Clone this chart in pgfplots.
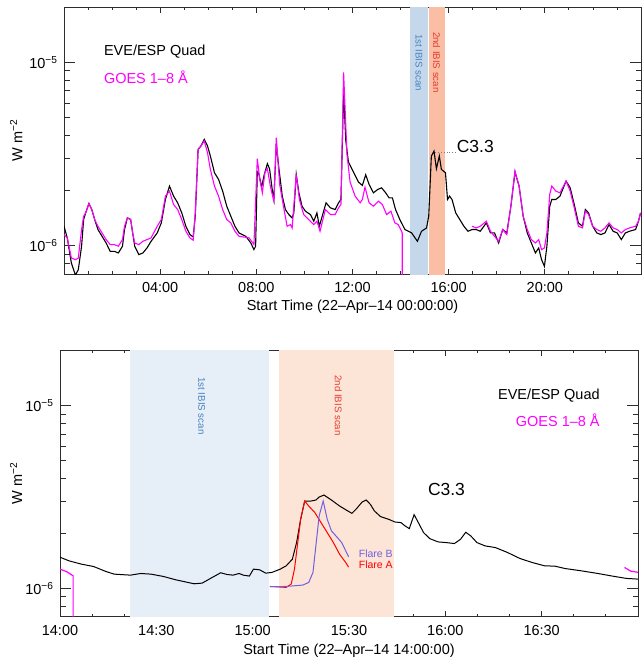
\documentclass[border=0pt]{standalone}
\usepackage{fontspec}
\setmainfont{Liberation Sans}
\usepackage{pgfplots}
\pgfplotsset{compat=1.18}
\definecolor{goes}{RGB}{255,0,255}
\definecolor{bandA}{RGB}{197,216,235}
\definecolor{bandB}{RGB}{250,190,165}
\definecolor{bandAl}{RGB}{230,238,247}
\definecolor{bandBl}{RGB}{252,228,214}
\definecolor{txtA}{RGB}{70,130,190}
\definecolor{txtB}{RGB}{230,60,50}
\definecolor{flareb}{RGB}{112,96,225}
\definecolor{axgray}{RGB}{45,45,45}
\pgfplotsset{every axis/.append style={
    scale only axis, ymin=7e-7, ymax=2e-5,
    axis line style={axgray, line width=0.9pt},
    ytick={1e-6,1e-5},
    yticklabels={{10\textsuperscript{−6}},{10\textsuperscript{−5}}},
    minor ytick={8e-7,9e-7,2e-6,3e-6,4e-6,5e-6,6e-6,7e-6,8e-6,9e-6},
    tick style={axgray, line width=0.8pt},
    major tick length=9pt, minor tick length=4.5pt,
    tick align=inside,
    every tick label/.append style={font=\fontsize{14.5}{16}\selectfont, text=black},
    yticklabel style={xshift=-3pt},
    xticklabel style={yshift=-5pt},
    label style={font=\fontsize{14.5}{16}\selectfont},
    ylabel={W m\textsuperscript{−2}},
}}
\begin{document}
\begin{tikzpicture}
\path[use as bounding box] (0,0) rectangle (642pt,658pt);
% ---------------- top panel ----------------
\begin{axis}[ymode=log, at={(64pt,384pt)}, anchor=south west,
  width=577pt, height=266.7pt, xmin=0, xmax=24,
  xtick style={/pgfplots/major tick length=5.5pt,/pgfplots/minor tick length=2.7pt},
  ytick style={/pgfplots/major tick length=11pt,/pgfplots/minor tick length=5.5pt},
  xtick={4,8,12,16,20}, xticklabels={04:00,08:00,12:00,16:00,20:00},
  minor xtick={1,2,3,5,6,7,9,10,11,13,14,15,17,18,19,21,22,23},
  xlabel={Start Time (22–Apr–14 00:00:00)},
  xlabel style={at={(axis description cs:0.5,-0.122)}, anchor=center},
  ylabel style={at={(axis description cs:-0.083,0.5)}, anchor=center},
]
\addplot[draw=none, fill=bandA] coordinates {(14.40,5e-7) (15.15,5e-7) (15.15,3e-5) (14.40,3e-5)} -- cycle;
\addplot[draw=none, fill=bandB] coordinates {(15.20,5e-7) (15.83,5e-7) (15.83,3e-5) (15.20,3e-5)} -- cycle;
\node[rotate=-90, anchor=west, inner sep=0, text=txtA, font=\fontsize{9.7}{11}\selectfont] at (axis cs:14.76,1.43e-5) {1st IBIS scan};
\node[rotate=-90, anchor=west, inner sep=0, text=txtB, font=\fontsize{9.7}{11}\selectfont] at (axis cs:15.50,1.466e-5) {2nd IBIS scan};
% EVE/ESP
\addplot[black, line width=1.1pt] coordinates {
(0.000,1.276e-6) (0.136,1.102e-6) (0.306,0.804e-6) (0.476,0.690e-6) (0.595,0.739e-6)
(0.731,0.992e-6) (0.816,1.388e-6) (0.901,1.509e-6) (1.037,1.698e-6) (1.156,1.574e-6)
(1.276,1.388e-6) (1.412,1.224e-6) (1.582,1.125e-6) (1.752,1.034e-6) (1.922,0.931e-6)
(2.092,0.931e-6) (2.262,0.912e-6) (2.432,0.992e-6) (2.517,1.224e-6) (2.636,1.417e-6)
(2.772,1.388e-6) (2.857,1.173e-6) (2.942,0.992e-6) (3.112,0.893e-6) (3.282,0.912e-6)
(3.452,0.971e-6) (3.622,1.056e-6) (3.878,1.173e-6) (4.048,1.331e-6) (4.218,1.786e-6)
(4.388,2.113e-6) (4.558,1.863e-6) (4.728,1.713e-6) (4.898,1.509e-6) (5.068,1.276e-6)
(5.238,1.149e-6) (5.374,1.115e-6) (5.459,1.447e-6) (5.578,3.355e-6) (5.697,3.499e-6)
(5.833,3.805e-6) (5.969,3.499e-6) (6.088,3.084e-6) (6.259,2.500e-6) (6.429,2.298e-6)
(6.599,1.984e-6) (6.769,1.642e-6) (6.939,1.447e-6) (7.109,1.276e-6) (7.280,1.173e-6)
(7.560,1.125e-6) (7.770,1.034e-6) (7.900,0.951e-6) (7.970,0.992e-6) (8.040,2.531e-6)
(8.110,2.450e-6) (8.220,2.086e-6) (8.320,2.416e-6) (8.460,2.801e-6) (8.550,2.630e-6)
(8.660,2.026e-6) (8.730,1.786e-6) (8.830,3.601e-6) (8.940,2.630e-6) (9.080,1.862e-6)
(9.210,1.574e-6) (9.350,1.478e-6) (9.490,1.417e-6) (9.560,1.509e-6) (9.660,2.447e-6)
(9.770,1.943e-6) (9.900,1.642e-6) (10.040,1.542e-6) (10.250,1.478e-6) (10.390,1.359e-6)
(10.520,1.509e-6) (10.620,1.276e-6) (10.760,1.478e-6) (10.900,1.713e-6) (11.080,1.608e-6)
(11.280,1.574e-6) (11.420,1.713e-6) (11.520,1.786e-6) (11.630,6.910e-6) (11.720,3.756e-6)
(11.830,2.859e-6) (12.040,2.521e-6) (12.250,2.222e-6) (12.410,2.131e-6) (12.550,2.437e-6)
(12.690,2.158e-6) (12.870,1.942e-6) (13.050,2.026e-6) (13.210,2.068e-6) (13.380,1.943e-6)
(13.520,1.824e-6) (13.660,1.824e-6) (13.790,1.574e-6) (13.970,1.388e-6) (14.180,1.224e-6)
(14.460,1.173e-6) (14.700,1.056e-6) (14.870,1.198e-6) (15.080,1.249e-6) (15.170,1.447e-6)
(15.280,3.083e-6) (15.390,3.283e-6) (15.490,2.630e-6) (15.612,3.084e-6) (15.697,2.607e-6)
(15.867,2.500e-6) (15.952,1.786e-6) (16.037,1.863e-6) (16.139,1.786e-6) (16.293,1.509e-6)
(16.463,1.388e-6) (16.633,1.276e-6) (16.803,1.198e-6) (16.973,1.224e-6) (17.143,1.224e-6)
(17.313,1.198e-6) (17.568,1.331e-6) (17.738,1.173e-6) (17.908,1.173e-6) (18.078,1.034e-6)
(18.248,1.224e-6) (18.418,1.173e-6) (18.588,1.642e-6) (18.759,2.521e-6) (18.929,2.113e-6)
(19.099,1.447e-6) (19.269,1.173e-6) (19.439,1.034e-6) (19.609,0.912e-6) (19.745,0.971e-6)
(19.864,0.838e-6) (19.983,0.771e-6) (20.085,0.992e-6) (20.204,1.642e-6) (20.289,1.786e-6)
(20.459,1.786e-6) (20.629,1.863e-6) (20.884,2.250e-6) (21.054,2.069e-6) (21.224,1.677e-6)
(21.395,1.331e-6) (21.565,1.276e-6) (21.684,1.574e-6) (21.820,1.509e-6) (21.990,1.276e-6)
(22.160,1.173e-6) (22.330,1.149e-6) (22.500,1.173e-6) (22.670,1.303e-6) (22.840,1.198e-6)
(23.010,1.173e-6) (23.180,1.079e-6) (23.350,1.173e-6) (23.520,1.198e-6) (23.776,1.224e-6)
(23.895,1.359e-6) (23.980,1.509e-6)
};
% GOES
\addplot[goes, line width=1.1pt] coordinates {
(0.000,1.149e-6) (0.136,1.102e-6) (0.306,0.856e-6) (0.476,0.838e-6) (0.595,0.856e-6)
(0.731,1.224e-6) (0.816,1.447e-6) (0.901,1.509e-6) (1.037,1.698e-6) (1.156,1.574e-6)
(1.276,1.388e-6) (1.412,1.276e-6) (1.582,1.173e-6) (1.752,1.079e-6) (1.922,1.013e-6)
(2.092,1.013e-6) (2.262,0.992e-6) (2.432,1.079e-6) (2.517,1.276e-6) (2.636,1.417e-6)
(2.772,1.388e-6) (2.857,1.173e-6) (2.942,1.034e-6) (3.112,1.013e-6) (3.282,1.056e-6)
(3.452,1.079e-6) (3.622,1.102e-6) (3.878,1.276e-6) (4.048,1.388e-6) (4.218,1.863e-6)
(4.388,1.984e-6) (4.558,1.677e-6) (4.728,1.574e-6) (4.898,1.388e-6) (5.068,1.198e-6)
(5.238,1.102e-6) (5.374,1.070e-6) (5.459,1.509e-6) (5.578,3.355e-6) (5.697,3.499e-6)
(5.833,3.726e-6) (5.969,3.217e-6) (6.088,2.607e-6) (6.259,2.113e-6) (6.429,1.863e-6)
(6.599,1.574e-6) (6.769,1.388e-6) (6.939,1.331e-6) (7.109,1.198e-6) (7.280,1.125e-6)
(7.700,1.102e-6) (7.900,1.014e-6) (8.040,2.981e-6) (8.140,2.317e-6) (8.250,1.942e-6)
(8.360,2.521e-6) (8.460,2.631e-6) (8.590,2.086e-6) (8.730,1.748e-6) (8.830,3.885e-6)
(8.970,2.158e-6) (9.140,1.608e-6) (9.280,1.276e-6) (9.420,1.303e-6) (9.490,1.249e-6)
(9.660,2.447e-6) (9.790,1.786e-6) (9.970,1.478e-6) (10.180,1.388e-6) (10.390,1.303e-6)
(10.520,1.359e-6) (10.650,1.198e-6) (10.870,1.574e-6) (11.080,1.478e-6) (11.280,1.478e-6)
(11.420,1.608e-6) (11.520,1.677e-6) (11.630,8.817e-6) (11.770,3.148e-6) (11.900,2.222e-6)
(12.110,1.862e-6) (12.320,1.713e-6) (12.410,1.786e-6) (12.520,2.086e-6) (12.690,1.713e-6)
(12.870,1.642e-6) (13.080,1.748e-6) (13.240,1.677e-6) (13.420,1.478e-6) (13.600,1.542e-6)
(13.760,1.331e-6) (13.900,1.303e-6) (14.040,1.198e-6) (14.070,1.170e-6) (14.070,5e-7)
};
\addplot[goes, line width=1.1pt] coordinates {
(16.973,1.276e-6) (17.143,1.249e-6) (17.313,1.276e-6) (17.568,1.359e-6) (17.738,1.198e-6)
(17.908,1.125e-6) (18.078,1.056e-6) (18.248,1.224e-6) (18.418,1.149e-6) (18.588,1.642e-6)
(18.759,2.552e-6) (18.929,2.113e-6) (19.099,1.447e-6) (19.269,1.224e-6) (19.439,1.079e-6)
(19.609,1.034e-6) (19.745,1.079e-6) (19.864,0.951e-6) (19.983,0.971e-6) (20.085,1.173e-6)
(20.204,1.902e-6) (20.289,2.113e-6) (20.459,1.984e-6) (20.629,1.943e-6) (20.884,2.250e-6)
(21.054,1.984e-6) (21.224,1.608e-6) (21.395,1.276e-6) (21.565,1.249e-6) (21.684,1.542e-6)
(21.820,1.478e-6) (21.990,1.276e-6) (22.160,1.224e-6) (22.330,1.198e-6) (22.500,1.249e-6)
(22.670,1.331e-6) (22.840,1.249e-6) (23.010,1.224e-6) (23.180,1.173e-6) (23.350,1.224e-6)
(23.520,1.249e-6) (23.776,1.276e-6) (23.895,1.359e-6) (23.980,1.509e-6)
};
\addplot[gray, dotted, line width=0.8pt] coordinates {(15.45,3.24e-6) (16.29,3.24e-6)};
\node[anchor=west, inner sep=0, font=\fontsize{17.5}{19}\selectfont] at (axis cs:16.33,3.48e-6) {C3.3};
\node[anchor=west, inner sep=0, font=\fontsize{14.5}{16}\selectfont] at (axis description cs:0.069,0.832) {EVE/ESP Quad};
\node[anchor=west, inner sep=0, text=goes, font=\fontsize{14.5}{16}\selectfont] at (axis description cs:0.069,0.739) {GOES 1–8 Å};
\end{axis}
% ---------------- bottom panel ----------------
\begin{axis}[ymode=log, at={(60pt,41.3pt)}, anchor=south west,
  width=578pt, height=266pt, xmin=14, xmax=17,
  xtick style={/pgfplots/major tick length=5.5pt,/pgfplots/minor tick length=2.7pt},
  ytick style={/pgfplots/major tick length=11pt,/pgfplots/minor tick length=5.5pt},
  xtick={14,14.5,15,15.5,16,16.5}, xticklabels={14:00,14:30,15:00,15:30,16:00,16:30},
  minor xtick={14.1667,14.3333,14.6667,14.8333,15.1667,15.3333,15.6667,15.8333,16.1667,16.3333,16.6667,16.8333},
  xlabel={Start Time (22–Apr–14 14:00:00)},
  xlabel style={at={(axis description cs:0.5,-0.128)}, anchor=center},
  ylabel style={at={(axis description cs:-0.076,0.5)}, anchor=center},
]
\addplot[draw=none, fill=bandAl] coordinates {(14.363,5e-7) (15.083,5e-7) (15.083,3e-5) (14.363,3e-5)} -- cycle;
\addplot[draw=none, fill=bandBl] coordinates {(15.137,5e-7) (15.735,5e-7) (15.735,3e-5) (15.137,3e-5)} -- cycle;
\node[rotate=-90, anchor=west, inner sep=0, text=txtA, font=\fontsize{9.7}{11}\selectfont] at (axis cs:14.735,1.434e-5) {1st IBIS scan};
\node[rotate=-90, anchor=west, inner sep=0, text=txtB, font=\fontsize{9.7}{11}\selectfont] at (axis cs:15.445,1.47e-5) {2nd IBIS scan};
\addplot[black, line width=1.0pt] coordinates {
(14.000,1.482e-6) (14.047,1.415e-6) (14.111,1.358e-6) (14.174,1.318e-6) (14.238,1.238e-6)
(14.281,1.197e-6) (14.366,1.182e-6) (14.419,1.207e-6) (14.472,1.197e-6) (14.536,1.163e-6)
(14.600,1.115e-6) (14.664,1.078e-6) (14.696,1.060e-6) (14.738,1.069e-6) (14.781,1.134e-6)
(14.834,1.218e-6) (14.866,1.192e-6) (14.898,1.182e-6) (14.930,1.207e-6) (14.951,1.182e-6)
(14.983,1.168e-6) (15.004,1.275e-6) (15.036,1.264e-6) (15.068,1.212e-6) (15.100,1.223e-6)
(15.143,1.275e-6) (15.174,1.329e-6) (15.206,1.445e-6) (15.228,1.782e-6) (15.249,2.389e-6)
(15.270,3.007e-6) (15.302,3.007e-6) (15.328,3.045e-6) (15.345,3.162e-6) (15.370,3.244e-6)
(15.409,3.045e-6) (15.451,2.825e-6) (15.494,2.653e-6) (15.515,2.576e-6) (15.536,2.709e-6)
(15.568,2.970e-6) (15.589,3.045e-6) (15.611,2.884e-6) (15.632,2.653e-6) (15.664,2.471e-6)
(15.706,2.389e-6) (15.738,2.310e-6) (15.770,2.291e-6) (15.791,2.197e-6) (15.813,2.125e-6)
(15.838,2.533e-6) (15.860,2.291e-6) (15.887,2.021e-6) (15.919,1.874e-6) (15.962,1.797e-6)
(16.004,1.782e-6) (16.047,1.760e-6) (16.079,1.858e-6) (16.106,2.029e-6) (16.132,1.938e-6)
(16.164,1.782e-6) (16.206,1.709e-6) (16.260,1.673e-6) (16.323,1.572e-6) (16.387,1.458e-6)
(16.451,1.386e-6) (16.515,1.329e-6) (16.568,1.324e-6) (16.621,1.285e-6) (16.706,1.248e-6)
(16.791,1.207e-6) (16.877,1.163e-6) (16.940,1.134e-6) (17.004,1.124e-6)
};
\addplot[goes, line width=1.2pt] coordinates {(14.000,1.275e-6) (14.036,1.233e-6) (14.068,1.172e-6) (14.068,5e-7)};
\addplot[goes, line width=1.2pt] coordinates {(16.930,1.302e-6) (16.962,1.243e-6) (17.004,1.223e-6)};
\addplot[red, line width=1.0pt] coordinates {
(15.089,1.025e-6) (15.174,1.013e-6) (15.200,1.056e-6) (15.217,1.275e-6) (15.234,1.782e-6)
(15.249,2.389e-6) (15.270,3.007e-6) (15.291,2.825e-6) (15.323,2.598e-6) (15.355,2.291e-6)
(15.387,2.021e-6) (15.419,1.782e-6) (15.451,1.539e-6) (15.483,1.386e-6) (15.498,1.307e-6)
};
\addplot[flareb, line width=1.0pt] coordinates {
(15.089,1.021e-6) (15.174,1.025e-6) (15.260,1.043e-6) (15.291,1.078e-6) (15.313,1.223e-6)
(15.328,1.709e-6) (15.345,2.491e-6) (15.366,3.007e-6) (15.387,2.389e-6) (15.409,2.063e-6)
(15.440,1.897e-6) (15.462,1.782e-6) (15.483,1.605e-6) (15.498,1.488e-6)
};
\node[anchor=west, inner sep=0, text=flareb, font=\fontsize{10.5}{12}\selectfont] at (axis cs:15.55,1.54e-6) {Flare B};
\node[anchor=west, inner sep=0, text=red, font=\fontsize{10.5}{12}\selectfont] at (axis cs:15.55,1.34e-6) {Flare A};
\node[anchor=center, inner sep=0, font=\fontsize{17.5}{19}\selectfont] at (axis cs:16.006,3.50e-6) {C3.3};
\node[anchor=east, inner sep=0, font=\fontsize{14.5}{16}\selectfont] at (axis description cs:0.934,0.833) {EVE/ESP Quad};
\node[anchor=east, inner sep=0, text=goes, font=\fontsize{14.5}{16}\selectfont] at (axis description cs:0.934,0.739) {GOES 1–8 Å};
\end{axis}
\end{tikzpicture}
\end{document}
